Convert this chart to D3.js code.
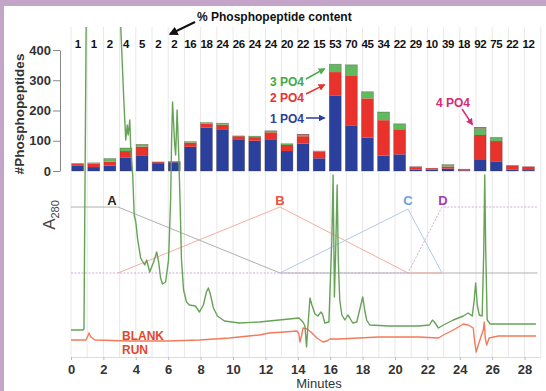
<!DOCTYPE html>
<html>
<head>
<meta charset="utf-8">
<script src="https://cdn.jsdelivr.net/npm/d3@7"></script>
<style>
  html, body { margin: 0; padding: 0; background: #fff; }
  svg { display: block; font-family: "Liberation Sans", Arial, Helvetica, sans-serif; }
</style>
</head>
<body>
<svg id="chart" width="546" height="391"></svg>
<script>
// ---- Phosphopeptide counts per one-minute fraction ----
const fractions = d3.range(1, 30);
const pctContent = [1,1,2,4,5,2,2,16,18,24,26,24,24,20,22,15,53,70,45,34,22,29,10,39,18,92,75,22,12];
const onePO4   = [17,13,18,45,52,26,29,80,144,138,105,100,105,66,91,42,250,151,110,51,55,5,5,8,2,39,32,4,3];
const twoPO4   = [6,11,13,21,29,3,2,14,12,15,10,12,23,20,24,22,77,163,130,117,83,6,4,7,3,80,67,14,11];
const threePO4 = [2,3,10,10,7,0,0,3,4,5,1,3,5,4,4,2,26,37,22,27,18,0,0,6,0,22,12,0,0];
const fourPO4  = [0,0,0,0,0,1,0,0,0,0,0,0,0,0,2,0,0,0,0,0,0,3,0,0,1,3,0,0,0];
const barTicks = [0,100,200,300,400];

// ---- Chromatogram (A280, arbitrary units) : [minutes, absorbance] ----
const sampleTrace = [
  [0,15],[0.74,15],[0.8,16],[0.98,420],[3.01,420],[3.07,318],[3.26,245],[3.38,205],[3.47,220],
  [3.53,210],[3.63,225],[3.69,195],[3.81,170],[3.9,130],[4.0,123],[4.12,105],[4.3,87],[4.55,80],
  [4.67,85],[4.86,73],[5.1,83],[5.29,93],[5.41,83],[5.53,67],[5.65,61],[5.84,63],[6.02,85],
  [6.15,145],[6.21,205],[6.27,243],[6.4,200],[6.46,190],[6.55,235],[6.64,195],[6.73,145],
  [6.82,85],[6.95,55],[7.13,43],[7.31,40],[7.68,39],[7.93,33],[8.17,40],[8.36,53],[8.48,57],
  [8.6,51],[8.79,37],[9.04,29],[9.47,24],[10.39,22],[11.62,23],[12.85,25],[14.07,27],[14.32,23],
  [14.44,19],[14.54,-2],[14.63,20],[14.75,47],[14.87,40],[15.06,31],[15.24,29],[15.43,33],
  [15.52,31],[15.67,22],[15.92,23],[16.1,105],[16.18,170],[16.26,48],[16.34,95],[16.43,160],
  [16.5,85],[16.59,45],[16.72,30],[16.9,25],[17.09,30],[17.21,27],[17.39,22],[17.64,23],
  [17.89,40],[18.01,48],[18.13,35],[18.25,25],[18.44,20],[19.61,19],[21.45,19],[22.13,20],
  [22.31,25],[22.43,23],[22.68,17],[22.99,20],[23.6,25],[24.22,29],[24.52,32],[24.77,29],
  [24.89,45],[24.98,62],[25.08,40],[25.2,30],[25.38,29],[25.48,95],[25.54,170],[25.6,95],
  [25.69,25],[25.88,21],[26.98,21],[28.7,21]
];
const blankTrace = [
  [0,5],[0.92,5],[1.04,9],[1.11,12],[1.23,8],[1.48,5],[3.63,4],[5.96,4],[7.93,5],[9.77,7],
  [11.62,10],[12.23,12],[13.15,13],[13.95,14],[14.07,11],[14.13,3],[14.23,9],[14.32,17],
  [14.56,16],[14.81,13],[15.18,7],[15.55,3],[15.8,4],[15.98,6],[16.53,6],[17.76,7],[18.99,8],
  [21.45,8],[22.68,7],[22.99,10],[23.6,15],[24.22,21],[24.52,20],[24.83,17],[24.92,3],
  [25.01,-7],[25.14,0],[25.32,9],[25.45,15],[25.51,23],[25.57,7],[25.66,0],[25.81,7],
  [26.37,9],[28.7,9]
];

// ---- Solvent gradient (% of each buffer) ----
const gradA = [[0,100],[2.9,100],[12.9,0],[28.8,0]];
const gradB = [[2.9,0],[12.9,100],[20.8,0],[22.9,0]];
const gradC = [[12.9,0],[20.8,97],[22.9,0]];
const gradD = [[0,0],[20.8,0],[22.9,100],[28.8,100]];
const minuteTicks = d3.range(0, 29, 2);

const svg = d3.select("#chart");
const W = 546, H = 391;

// frame
svg.append("rect").attr("width", W).attr("height", H).attr("fill", "#c4a4c8");
svg.append("rect").attr("x", 4).attr("y", 6).attr("width", W - 4).attr("height", H - 6).attr("fill", "#fff");

// scales
const xMin = d3.scaleLinear().domain([0, 29]).range([71, 540.8]);
const xBar = d3.scaleBand().domain(d3.range(29)).range([71.7, 534.4]).paddingInner(0.26).paddingOuter(0);
const yBar = d3.scaleLinear().domain([0, 400]).range([171, 50]);
const yAbs = d3.scaleLinear().domain([0, 318]).range([345, 27]);
const yGrad = d3.scaleLinear().domain([0, 100]).range([273, 207]);

// minute grid
svg.append("g").selectAll("line").data(d3.range(0, 30)).join("line")
  .attr("x1", d => xMin(d)).attr("x2", d => xMin(d))
  .attr("y1", 27).attr("y2", 357)
  .attr("stroke", "#e8e8e8").attr("stroke-width", 1);

// stacked bars
const rows = fractions.map((f, i) => ({ i, one: onePO4[i], two: twoPO4[i], three: threePO4[i], four: fourPO4[i] }));
const keys = ["one", "two", "three", "four"];
const colors = { one: "#2b3f9c", two: "#e8322b", three: "#63b95f", four: "#8e3048" };
const stack = d3.stack().keys(keys)(rows);
svg.append("g").selectAll("g").data(stack).join("g")
  .attr("fill", d => colors[d.key])
  .selectAll("rect").data(d => d).join("rect")
  .attr("x", d => xBar(d.data.i))
  .attr("width", xBar.bandwidth())
  .attr("y", d => yBar(d[1]))
  .attr("height", d => Math.max(0, yBar(d[0]) - yBar(d[1])));
// thin outline of each bar
svg.append("g").selectAll("rect").data(rows).join("rect")
  .attr("x", d => xBar(d.i))
  .attr("width", xBar.bandwidth())
  .attr("y", d => yBar(d.one + d.two + d.three + d.four))
  .attr("height", d => yBar(0) - yBar(d.one + d.two + d.three + d.four))
  .attr("fill", "none").attr("stroke", "rgba(60,40,40,0.4)").attr("stroke-width", 0.7);

// bar y axis
const yAx = svg.append("g").attr("transform", "translate(60,0)")
  .call(d3.axisLeft(yBar).tickValues(barTicks).tickSize(7).tickSizeOuter(0).tickPadding(2));
yAx.select(".domain").attr("stroke", "#888");
yAx.selectAll(".tick line").attr("stroke", "#888");
yAx.selectAll("text").attr("font-size", 13).attr("font-weight", "bold").attr("fill", "#333")
  .attr("font-family", "Liberation Sans, Arial, sans-serif");

svg.append("text").attr("transform", "translate(24,114) rotate(-90)")
  .attr("text-anchor", "middle").attr("font-size", 13.5).attr("font-weight", "bold")
  .attr("fill", "#333").text("#Phosphopeptides");

// percentage row
svg.append("g").selectAll("text").data(pctContent).join("text")
  .attr("x", (d, i) => xBar(i) + xBar.bandwidth() / 2)
  .attr("y", 48)
  .attr("text-anchor", "middle").attr("font-size", 11.5).attr("font-weight", "bold")
  .attr("letter-spacing", -0.4).attr("fill", "#111")
  .text(d => d);

// title with arrow
const defs = svg.append("defs");
function marker(id, color, size) {
  defs.append("marker").attr("id", id).attr("viewBox", "0 0 10 10")
    .attr("refX", 8).attr("refY", 5).attr("markerWidth", size).attr("markerHeight", size)
    .attr("orient", "auto").attr("markerUnits", "userSpaceOnUse")
    .append("path").attr("d", "M0,0 L10,5 L0,10 z").attr("fill", color);
}
marker("mBlack", "#111", 9);
marker("mGreen", "#4fae4a", 7);
marker("mRed", "#e8322b", 7);
marker("mBlue", "#2b3f9c", 7);
marker("mPink", "#d42a78", 7);

svg.append("text").attr("x", 197).attr("y", 21).attr("font-size", 12).attr("font-weight", "bold")
  .attr("fill", "#111").text("% Phosphopeptide content");
svg.append("line").attr("x1", 195).attr("y1", 22).attr("x2", xBar(6) + 2).attr("y2", 34)
  .attr("stroke", "#111").attr("stroke-width", 2).attr("marker-end", "url(#mBlack)");

// clip for chromatogram
defs.append("clipPath").attr("id", "plotClip").append("rect")
  .attr("x", 60).attr("y", 27).attr("width", 486).attr("height", 340);

// gradient lines
const gLine = d3.line().x(d => xMin(d[0])).y(d => yGrad(d[1]));
const grads = [
  { data: gradA, color: "#b0b0b0", dash: null },
  { data: gradB, color: "#f5ad9f", dash: null },
  { data: gradC, color: "#b2c9ea", dash: null },
  { data: gradD, color: "#cfaadc", dash: "2,1.5" }
];
svg.append("g").selectAll("path").data(grads).join("path")
  .attr("d", d => gLine(d.data)).attr("fill", "none")
  .attr("stroke", d => d.color).attr("stroke-width", 1)
  .attr("stroke-dasharray", d => d.dash);

const gradLabels = [
  { t: "A", at: gradA[1], color: "#222" },
  { t: "B", at: gradB[1], color: "#e8553d" },
  { t: "C", at: gradC[1], color: "#6e9fd8" },
  { t: "D", at: gradD[2], color: "#a03cb0" }
];
svg.append("g").selectAll("text").data(gradLabels).join("text")
  .attr("x", d => xMin(d.at[0]) + (d.t === "A" ? -6 : (d.t === "D" ? 1 : 0)))
  .attr("y", 205)
  .attr("text-anchor", "middle").attr("font-size", 13).attr("font-weight", "bold")
  .attr("fill", d => d.color).text(d => d.t);

// chromatogram traces
const aLine = d3.line().x(d => xMin(d[0])).y(d => yAbs(d[1]));
const chrom = svg.append("g").attr("clip-path", "url(#plotClip)");
chrom.append("path").attr("d", aLine(blankTrace)).attr("fill", "none")
  .attr("stroke", "#f47a5a").attr("stroke-width", 1.4).attr("stroke-linejoin", "round");
chrom.append("path").attr("d", aLine(sampleTrace)).attr("fill", "none")
  .attr("stroke", "#66a357").attr("stroke-width", 1.4).attr("stroke-linejoin", "round");

svg.append("text").attr("x", 122).attr("y", 340).attr("font-size", 12).attr("font-weight", "bold")
  .attr("fill", "#e2472c").text("BLANK");
svg.append("text").attr("x", 122).attr("y", 354).attr("font-size", 12).attr("font-weight", "bold")
  .attr("fill", "#e2472c").text("RUN");

// A280 label
const aLab = svg.append("text").attr("transform", "translate(55,215) rotate(-90)")
  .attr("text-anchor", "middle").attr("font-size", 17).attr("fill", "#444");
aLab.append("tspan").text("A");
aLab.append("tspan").attr("font-size", 11).attr("dy", 4).text("280");

// minutes axis
const xAx = svg.append("g").attr("transform", "translate(0,357)")
  .call(d3.axisBottom(xMin).tickValues(minuteTicks).tickSize(3).tickSizeOuter(0).tickPadding(5));
xAx.select(".domain").attr("stroke", "#ddd");
xAx.selectAll(".tick line").attr("stroke", "#bbb");
xAx.selectAll("text").attr("font-size", 13).attr("font-weight", "bold").attr("fill", "#333")
  .attr("font-family", "Liberation Sans, Arial, sans-serif");
svg.append("text").attr("x", 319).attr("y", 388).attr("text-anchor", "middle")
  .attr("font-size", 13).attr("fill", "#333").text("Minutes");

// PO4 annotations pointing at the fraction-17 and fraction-26 bars
const b17 = 16, b26 = 25;
const tipX = xBar(b17) - 5;
const notes = [
  { t: "3 PO4", color: "#45a843", m: "mGreen", ty: 86, sy: 79, v: onePO4[b17] + twoPO4[b17] + threePO4[b17] * 0.4 },
  { t: "2 PO4", color: "#e8322b", m: "mRed", ty: 102, sy: 94, v: onePO4[b17] + twoPO4[b17] * 0.45 },
  { t: "1 PO4", color: "#2b3f9c", m: "mBlue", ty: 123, sy: 118, v: null }
];
notes.forEach(n => {
  svg.append("text").attr("x", 270).attr("y", n.ty).attr("font-size", 12).attr("font-weight", "bold")
    .attr("fill", n.color).text(n.t);
  svg.append("line").attr("x1", 306).attr("y1", n.sy).attr("x2", tipX)
    .attr("y2", n.v === null ? n.sy : yBar(n.v))
    .attr("stroke", n.color).attr("stroke-width", 1.5).attr("marker-end", "url(#" + n.m + ")");
});
svg.append("text").attr("x", 436).attr("y", 107).attr("font-size", 12).attr("font-weight", "bold")
  .attr("fill", "#d42a78").text("4 PO4");
const top26 = onePO4[b26] + twoPO4[b26] + threePO4[b26] + fourPO4[b26];
svg.append("line").attr("x1", 462).attr("y1", 109).attr("x2", xBar(b26) - 2).attr("y2", yBar(top26) - 3)
  .attr("stroke", "#d42a78").attr("stroke-width", 1.5).attr("marker-end", "url(#mPink)");
</script>
</body>
</html>
